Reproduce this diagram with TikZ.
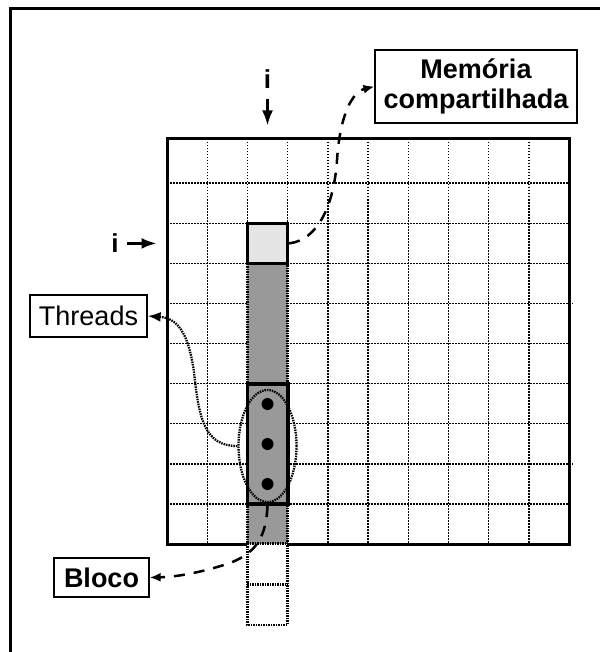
\documentclass[tikz,border=0pt]{standalone}
\usepackage{fontspec}
\setmainfont{Liberation Sans}
\usetikzlibrary{positioning,shapes.geometric,arrows.meta}
\tikzset{>={Latex[length=11pt,width=9pt]}}

\begin{document}
\begin{tikzpicture}[x=1pt,y=-1pt,
    lbl/.style={draw, line width=1.2pt, inner sep=0pt, font=\fontsize{27}{30}\selectfont},
    gridline/.style={dash pattern=on 1.5pt off 1.5pt, line width=1.4pt},
    colline/.style={dash pattern=on 1.5pt off 1pt, line width=2.3pt},
    dashconn/.style={->, line width=2.5pt, dash pattern=on 11pt off 9pt},
    iarrow/.style={-{Latex[length=15pt,width=11pt]}, line width=2.5pt}]
  \useasboundingbox (0,0) rectangle (600,652);
  % frame
  \draw[line width=3pt] (10,652) -- (10,9) -- (600,9);

  % matrix grid
  \foreach \k in {1,...,9}
    \draw[gridline] (167+40.2*\k,139) -- (167+40.2*\k,544);
  \foreach \k in {1,3,4,5,7,8,9}
    \draw[gridline] (167,544-40.1*\k) -- (569,544-40.1*\k);
  \foreach \k in {2,6}
    \draw[gridline] (167,544-40.1*\k) -- (573,544-40.1*\k);

  % column i
  \fill[black!40] (247.4,263.5) rectangle (287.6,544);
  \node[draw, line width=3pt, minimum width=402pt, minimum height=405pt] (sq) at (368,341.5) {};
  \fill[black!40] (247.4,535) rectangle (287.6,543.5);
  \fill[white] (247.4,543.5) rectangle (287.6,546);
  \draw[colline] (247.4,263.5) -- (247.4,625) -- (287.6,625) -- (287.6,263.5);
  \draw[colline] (247.4,543.5) -- (287.6,543.5);
  \draw[colline] (247.4,584.5) -- (287.6,584.5);

  % shared memory cell and block
  \node[draw, line width=3pt, fill=black!10, minimum width=40.2pt, minimum height=40.1pt] (sm) at (267.5,243.4) {};
  \node[draw, line width=3.8pt, minimum width=40.2pt, minimum height=120.3pt] (blk) at (267.5,444) {};
  \foreach \y [count=\k] in {404,444,484}
    \node[circle, fill, inner sep=0pt, minimum size=12pt] (t\k) at (267.5,\y) {};
  \node[ellipse, draw, colline, minimum width=58pt, minimum height=112pt] (thg) at (267.5,446) {};

  % labels
  \node[lbl, font=\fontsize{27}{30}\selectfont\bfseries, align=center, minimum width=202pt, minimum height=73pt] (mem) at (476,86.5) {Memória\\compartilhada};
  \node[lbl, minimum width=117pt, minimum height=42pt] (thr) at (88.5,316) {Threads};
  \node[lbl, font=\fontsize{27}{30}\selectfont\bfseries, minimum width=95pt, minimum height=39pt] (blc) at (101.5,577.5) {Bloco};
  \node[font=\fontsize{26}{30}\selectfont\bfseries, inner sep=0pt] (ic) at (267.5,79) {i};
  \node[font=\fontsize{26}{30}\selectfont\bfseries, inner sep=0pt] (il) at (115,243.4) {i};

  % connectors
  \draw[iarrow, shorten <=10pt, shorten >=12pt] (ic) -- (ic |- sq.north);
  \draw[iarrow, shorten <=8pt, shorten >=9pt] (il) -- (il -| sq.west);
  \draw[dashconn] (sm.east) .. controls (318,240) and (334,205) .. (337,160)
    .. controls (340,115) and (352,92) .. (mem.west);
  \draw[colline, -{Latex[length=13pt,width=10pt]}] (thg.west) .. controls (205,446) and (199,420) .. (194,372)
    .. controls (188,330) and (176,318) .. (thr.east);
  \draw[dashconn] (blk.south) .. controls (266,535) and (258,552) .. (230,563)
    .. controls (200,573) and (175,577) .. (blc.east);
\end{tikzpicture}
\end{document}
